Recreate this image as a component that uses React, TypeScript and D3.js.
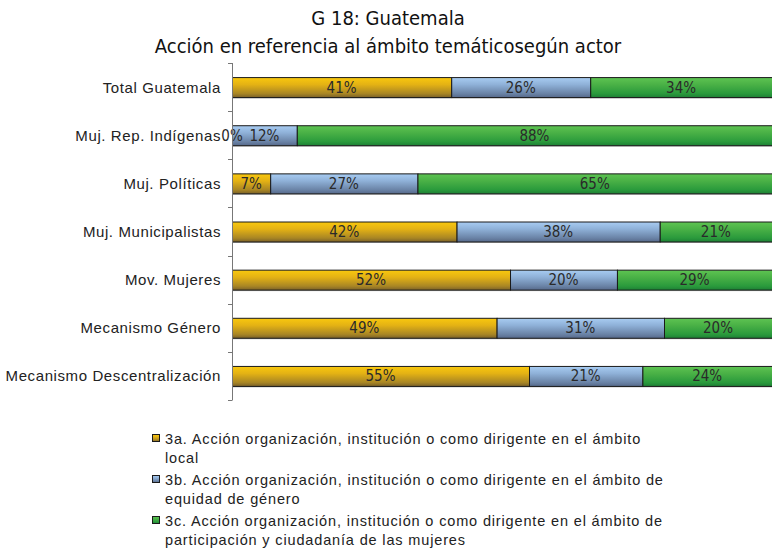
import React from "react";
import * as d3 from "d3";

const categories = [
  "Total Guatemala",
  "Muj. Rep. Indígenas",
  "Muj. Políticas",
  "Muj. Municipalistas",
  "Mov. Mujeres",
  "Mecanismo Género",
  "Mecanismo Descentralización",
];
const serieLocal = [41, 0, 7, 42, 52, 49, 55];
const serieEquidad = [26, 12, 27, 38, 20, 31, 21];
const serieParticipacion = [34, 88, 65, 21, 29, 20, 24];
const seriesKeys = ["a", "b", "c"];
const legendLines = [
  ["3a. Acción organización, institución o como dirigente en el ámbito", "local"],
  ["3b. Acción organización, institución o como dirigente en el ámbito de", "equidad de género"],
  ["3c. Acción organización, institución o como dirigente en el ámbito de", "participación y ciudadanía de las mujeres"],
];
const titleLines = ["G 18: Guatemala", "Acción en referencia al ámbito temáticosegún actor"];

const gradients = [
  { id: "gA", stops: ["#f9c80e", "#e4b214", "#a98624", "#7a6129"] },
  { id: "gB", stops: ["#a8ccf2", "#8fb1d8", "#6a83a6", "#56698a"] },
  { id: "gC", stops: ["#5ec452", "#4ab146", "#2a9a3c", "#1d7f35"] },
];

const W = 772;
const H = 554;
const FONT = "'Liberation Sans', Arial, sans-serif";
const NARROW = "'Liberation Sans Narrow', 'DejaVu Sans Condensed', 'Liberation Sans', sans-serif";

export default function App() {
  const rows = categories.map((c, i) => ({
    cat: c,
    a: serieLocal[i],
    b: serieEquidad[i],
    c: serieParticipacion[i],
  }));
  const stack = d3.stack<any>().keys(seriesKeys).offset(d3.stackOffsetExpand);
  const stacked = stack(rows);

  const x = d3.scaleLinear().domain([0, 1]).range([232, 772]);
  const y = d3
    .scaleBand<string>()
    .domain(categories)
    .range([63, 400])
    .paddingInner(0.585)
    .paddingOuter(0.2925);
  const step = y.step();
  const tickYs = d3.range(categories.length + 1).map((i) => 63 + i * step);
  const values = [serieLocal, serieEquidad, serieParticipacion];

  return (
    <svg
      width={W}
      height={H}
      style={{ position: "absolute", left: 0, top: 0, background: "#fff" }}
    >
      <defs>
        {gradients.map((g) => (
          <linearGradient key={g.id} id={g.id} x1="0" y1="0" x2="0" y2="1">
            <stop offset="0" stopColor={g.stops[0]} />
            <stop offset="0.35" stopColor={g.stops[1]} />
            <stop offset="0.8" stopColor={g.stops[2]} />
            <stop offset="1" stopColor={g.stops[3]} />
          </linearGradient>
        ))}
      </defs>
      <rect x={0} y={0} width={W} height={H} fill="#fff" />
      {titleLines.map((t, i) => (
        <text
          key={i}
          x={388}
          y={i === 0 ? 25 : 53}
          textAnchor="middle"
          fontFamily={NARROW}
          fontSize={20}
          fill="#111"
        >
          {t}
        </text>
      ))}

      {/* bar shadows */}
      {categories.map((c) => (
        <rect key={"sh" + c} x={x(0)} y={(y(c) as number) + 1.5} width={x(1) - x(0)} height={y.bandwidth()} fill="#bdbdbd" />
      ))}
      {stacked.map((s, si) => (
        <g key={s.key}>
          {s.map((d, i) => {
            const x0 = x(d[0]);
            const x1 = x(d[1]);
            const yy = y(categories[i]) as number;
            return (
              <rect
                key={i}
                x={x0 + 0.5}
                y={yy + 0.5}
                width={Math.max(0, x1 - x0)}
                height={y.bandwidth()}
                fill={`url(#${gradients[si].id})`}
                stroke="#1a1a1a"
                strokeWidth={1}
              />
            );
          })}
        </g>
      ))}
      {stacked.map((s, si) => (
        <g key={"l" + s.key}>
          {s.map((d, i) => {
            const cx = (x(d[0]) + x(d[1])) / 2;
            const yy = (y(categories[i]) as number) + y.bandwidth() / 2;
            return (
              <text
                key={i}
                x={cx}
                y={yy + 5.5}
                textAnchor="middle"
                fontFamily={NARROW}
                fontSize={15}
                fill="#2a2a2a"
              >
                {values[si][i]}%
              </text>
            );
          })}
        </g>
      ))}

      {/* axis */}
      <line x1={232.5} x2={232.5} y1={63} y2={400} stroke="#777" strokeWidth={1} />
      {tickYs.map((t, i) => (
        <line key={i} x1={228} x2={232.5} y1={Math.round(t) + 0.5} y2={Math.round(t) + 0.5} stroke="#777" />
      ))}
      {categories.map((c) => (
        <text
          key={c}
          x={221}
          y={(y(c) as number) + y.bandwidth() / 2 + 5.5}
          textAnchor="end"
          fontFamily={FONT}
          fontSize={15}
          letterSpacing={0.6}
          fill="#222"
        >
          {c}
        </text>
      ))}

      {/* legend */}
      {legendLines.map((lines, i) => {
        const base = 439 + i * 41;
        return (
          <g key={i}>
            <rect x={152.5} y={base - 4.5} width={7} height={7} fill={`url(#${gradients[i].id})`} stroke="#1a1a1a" />
            {lines.map((l, j) => (
              <text
                key={j}
                x={165}
                y={base + 5 + j * 19}
                fontFamily={FONT}
                fontSize={14.5}
                letterSpacing={0.85}
                fill="#222"
              >
                {l}
              </text>
            ))}
          </g>
        );
      })}
    </svg>
  );
}
